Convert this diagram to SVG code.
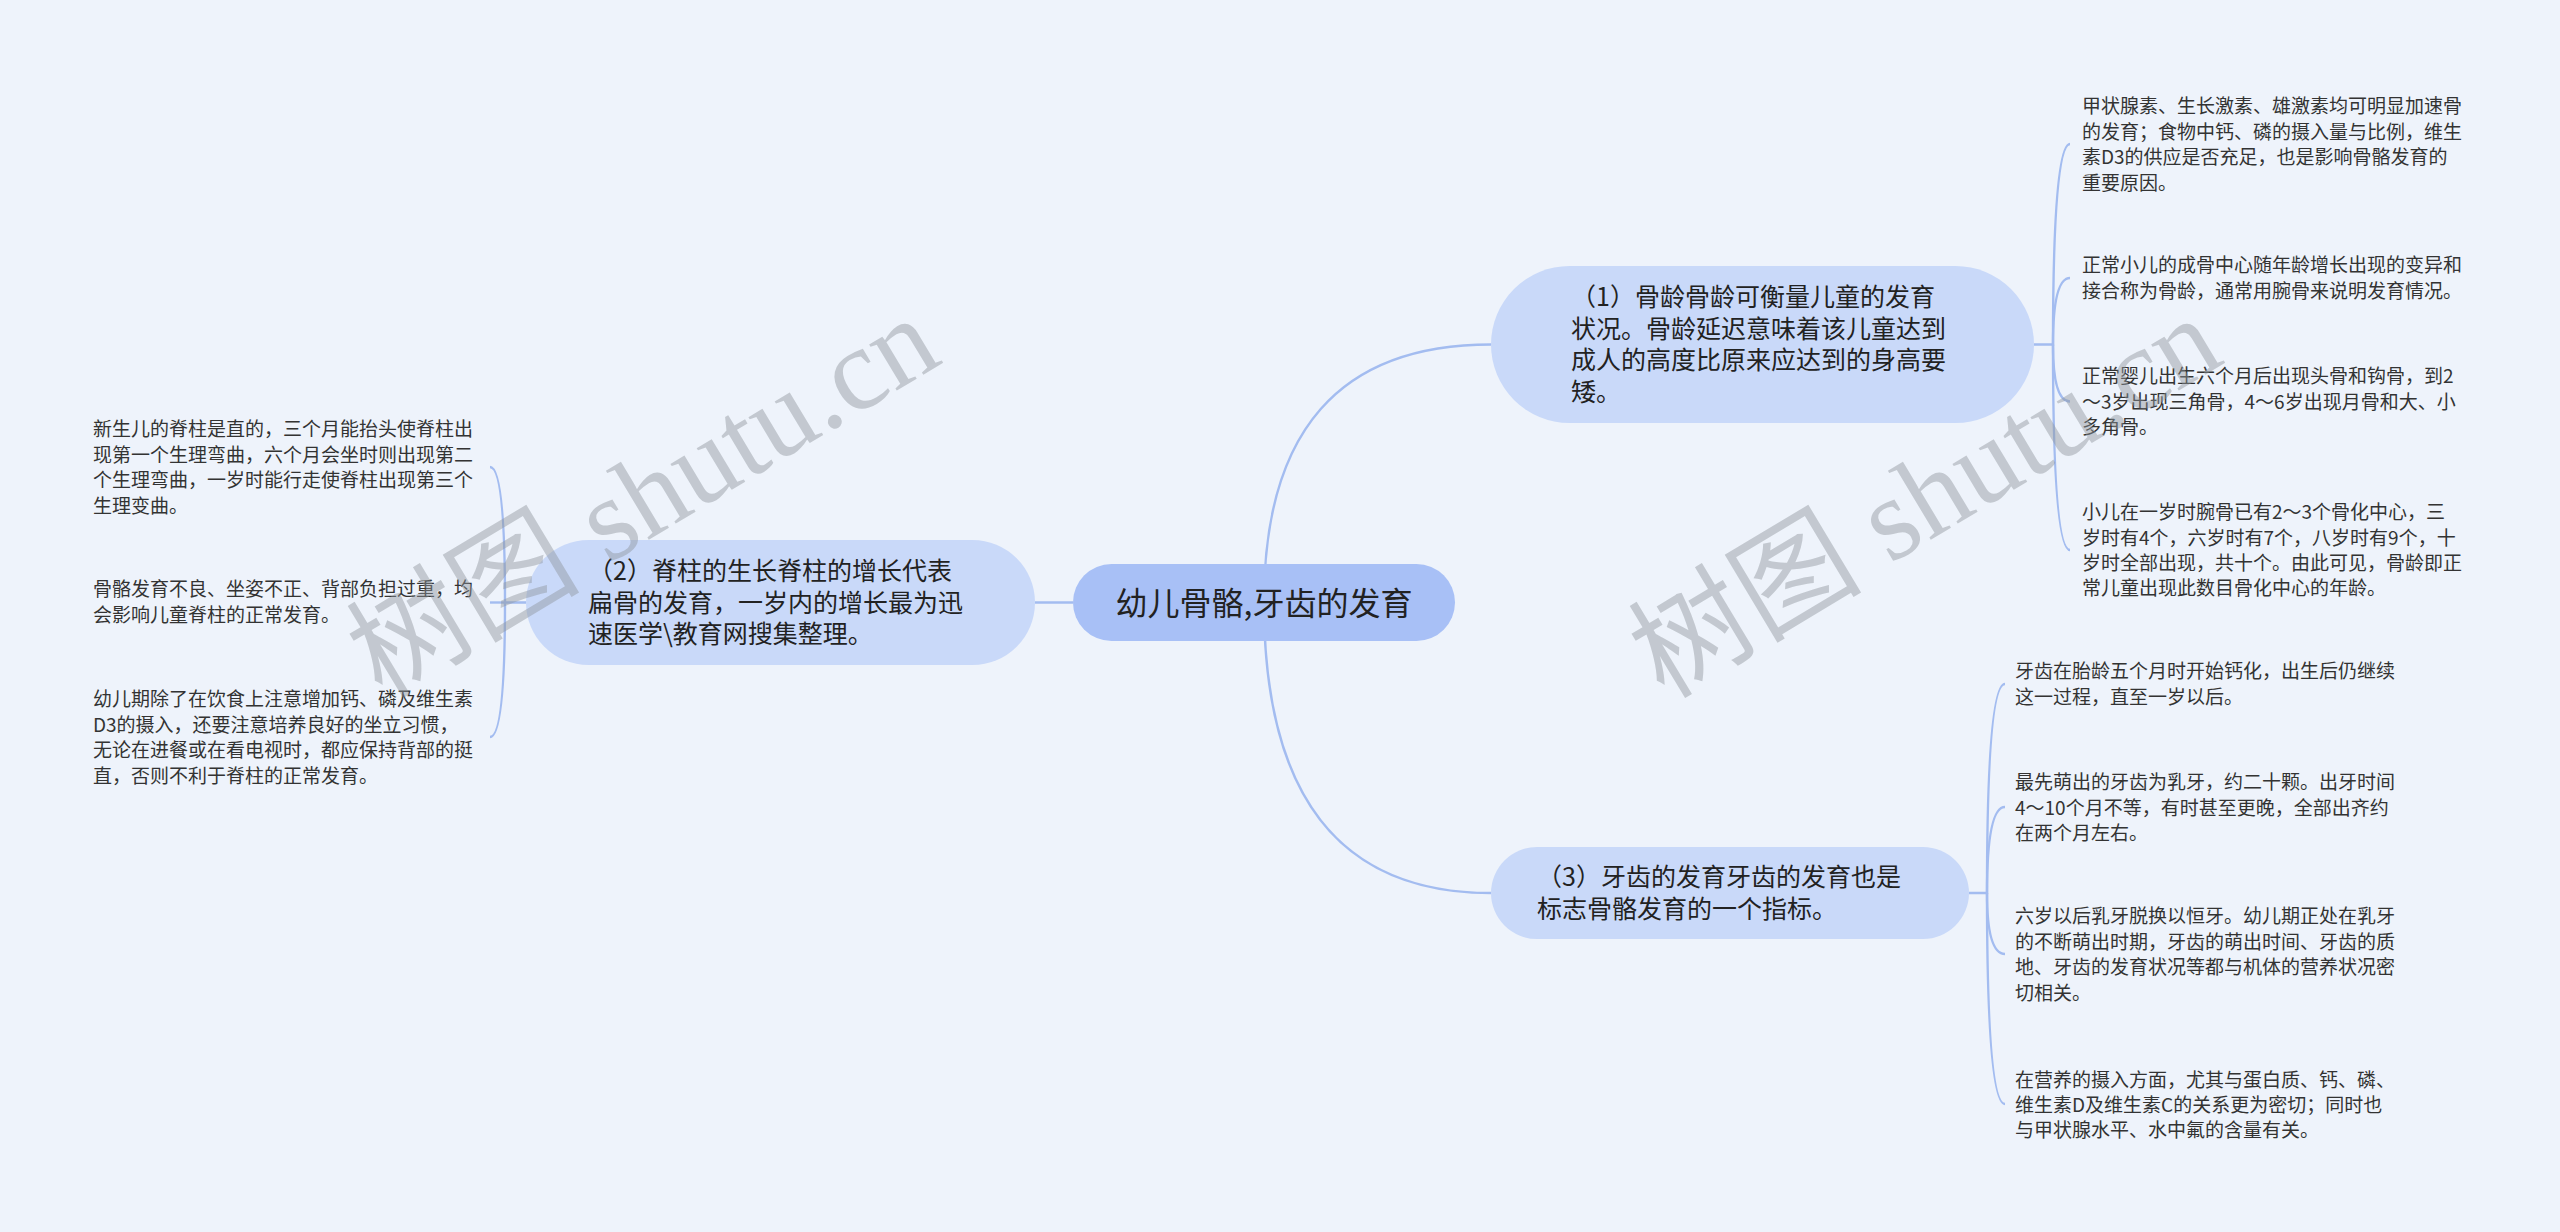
<svg xmlns="http://www.w3.org/2000/svg" width="2560" height="1232" viewBox="0 0 2560 1232">
<style>
.bg{fill:#eef3fb}
.link{fill:none;stroke:#a3bcf0;stroke-width:2.4}
.root{fill:#a8c0f6}
.topic{fill:#c9d9f9}
.rt{font-family:"Noto Sans CJK SC","Noto Sans",sans-serif;font-size:32px;fill:#222;text-anchor:middle}
.tt{font-family:"Noto Sans CJK SC","Noto Sans",sans-serif;font-size:25px;fill:#222}
.lt{font-family:"Noto Sans CJK SC","Noto Sans",sans-serif;font-size:19px;fill:#333}
.wm{font-family:"Liberation Serif","Noto Sans CJK SC",serif;font-size:117px;fill:#8f949b;fill-opacity:0.45}
</style>
<rect class="bg" x="0" y="0" width="2560" height="1232"/>
<g id="connectors">
<path class="link" d="M1264 602.5 Q1264 344.5 1491 344.5"/>
<path class="link" d="M1264 602.5 Q1264 893 1491 893"/>
<path class="link" d="M1073 602.5 L1035 602.5"/>
<path class="link" d="M2034 344.5 L2053 344.5 Q2053 144 2070 144"/>
<path class="link" d="M2053 344.5 Q2053 278 2070 278"/>
<path class="link" d="M2053 344.5 Q2053 401.5 2070 401.5"/>
<path class="link" d="M2053 344.5 Q2053 550 2070 550"/>
<path class="link" d="M1969 893 L1987 893 Q1987 684 2005 684"/>
<path class="link" d="M1987 893 Q1987 807 2005 807"/>
<path class="link" d="M1987 893 Q1987 954 2005 954"/>
<path class="link" d="M1987 893 Q1987 1104 2005 1104"/>
<path class="link" d="M526 602.5 L505 602.5 Q505 467 490 467"/>
<path class="link" d="M505 602.5 L490 602.5"/>
<path class="link" d="M505 602.5 Q505 737 490 737"/>
</g>
<g id="root">
<rect class="root" x="1073" y="564" width="382" height="77" rx="38.5"/>
<text class="rt" x="1264" y="615">幼儿骨骼,牙齿的发育</text>
</g>
<g id="topic1">
<rect class="topic" x="1491" y="266" width="543" height="157" rx="78.5"/>
<text class="tt"><tspan x="1571" y="306">（1）骨龄骨龄可衡量儿童的发育</tspan><tspan x="1571" y="338">状况。骨龄延迟意味着该儿童达到</tspan><tspan x="1571" y="369">成人的高度比原来应达到的身高要</tspan><tspan x="1571" y="401">矮。</tspan></text>
</g>
<g id="topic2">
<rect class="topic" x="526" y="540" width="509" height="125" rx="62.5"/>
<text class="tt"><tspan x="588" y="580">（2）脊柱的生长脊柱的增长代表</tspan><tspan x="588" y="612">扁骨的发育，一岁内的增长最为迅</tspan><tspan x="588" y="643">速医学\教育网搜集整理。</tspan></text>
</g>
<g id="topic3">
<rect class="topic" x="1491" y="847" width="478" height="92" rx="46"/>
<text class="tt"><tspan x="1537" y="886">（3）牙齿的发育牙齿的发育也是</tspan><tspan x="1537" y="918">标志骨骼发育的一个指标。</tspan></text>
</g>
<g id="leaf1a">
<text class="lt"><tspan x="2082" y="113">甲状腺素、生长激素、雄激素均可明显加速骨</tspan><tspan x="2082" y="139">的发育；食物中钙、磷的摄入量与比例，维生</tspan><tspan x="2082" y="164">素D3的供应是否充足，也是影响骨骼发育的</tspan><tspan x="2082" y="190">重要原因。</tspan></text>
</g>
<g id="leaf1b">
<text class="lt"><tspan x="2082" y="272">正常小儿的成骨中心随年龄增长出现的变异和</tspan><tspan x="2082" y="298">接合称为骨龄，通常用腕骨来说明发育情况。</tspan></text>
</g>
<g id="leaf1c">
<text class="lt"><tspan x="2082" y="383">正常婴儿出生六个月后出现头骨和钩骨，到2</tspan><tspan x="2082" y="409">～3岁出现三角骨，4～6岁出现月骨和大、小</tspan><tspan x="2082" y="434">多角骨。</tspan></text>
</g>
<g id="leaf1d">
<text class="lt"><tspan x="2082" y="519">小儿在一岁时腕骨已有2～3个骨化中心，三</tspan><tspan x="2082" y="545">岁时有4个，六岁时有7个，八岁时有9个，十</tspan><tspan x="2082" y="570">岁时全部出现，共十个。由此可见，骨龄即正</tspan><tspan x="2082" y="595">常儿童出现此数目骨化中心的年龄。</tspan></text>
</g>
<g id="leaf3a">
<text class="lt"><tspan x="2015" y="678">牙齿在胎龄五个月时开始钙化，出生后仍继续</tspan><tspan x="2015" y="704">这一过程，直至一岁以后。</tspan></text>
</g>
<g id="leaf3b">
<text class="lt"><tspan x="2015" y="789">最先萌出的牙齿为乳牙，约二十颗。出牙时间</tspan><tspan x="2015" y="815">4～10个月不等，有时甚至更晚，全部出齐约</tspan><tspan x="2015" y="840">在两个月左右。</tspan></text>
</g>
<g id="leaf3c">
<text class="lt"><tspan x="2015" y="923">六岁以后乳牙脱换以恒牙。幼儿期正处在乳牙</tspan><tspan x="2015" y="949">的不断萌出时期，牙齿的萌出时间、牙齿的质</tspan><tspan x="2015" y="974">地、牙齿的发育状况等都与机体的营养状况密</tspan><tspan x="2015" y="1000">切相关。</tspan></text>
</g>
<g id="leaf3d">
<text class="lt"><tspan x="2015" y="1087">在营养的摄入方面，尤其与蛋白质、钙、磷、</tspan><tspan x="2015" y="1112">维生素D及维生素C的关系更为密切；同时也</tspan><tspan x="2015" y="1137">与甲状腺水平、水中氟的含量有关。</tspan></text>
</g>
<g id="leaf2a">
<text class="lt"><tspan x="93" y="436">新生儿的脊柱是直的，三个月能抬头使脊柱出</tspan><tspan x="93" y="462">现第一个生理弯曲，六个月会坐时则出现第二</tspan><tspan x="93" y="487">个生理弯曲，一岁时能行走使脊柱出现第三个</tspan><tspan x="93" y="513">生理变曲。</tspan></text>
</g>
<g id="leaf2b">
<text class="lt"><tspan x="93" y="596">骨骼发育不良、坐姿不正、背部负担过重，均</tspan><tspan x="93" y="622">会影响儿童脊柱的正常发育。</tspan></text>
</g>
<g id="leaf2c">
<text class="lt"><tspan x="93" y="706">幼儿期除了在饮食上注意增加钙、磷及维生素</tspan><tspan x="93" y="732">D3的摄入，还要注意培养良好的坐立习惯，</tspan><tspan x="93" y="757">无论在进餐或在看电视时，都应保持背部的挺</tspan><tspan x="93" y="783">直，否则不利于脊柱的正常发育。</tspan></text>
</g>
<g id="watermarks">
<text class="wm" transform="translate(382 700) rotate(-31)">树图 shutu.cn</text>
<text class="wm" transform="translate(1664 700) rotate(-31)">树图 shutu.cn</text>
</g>
</svg>
